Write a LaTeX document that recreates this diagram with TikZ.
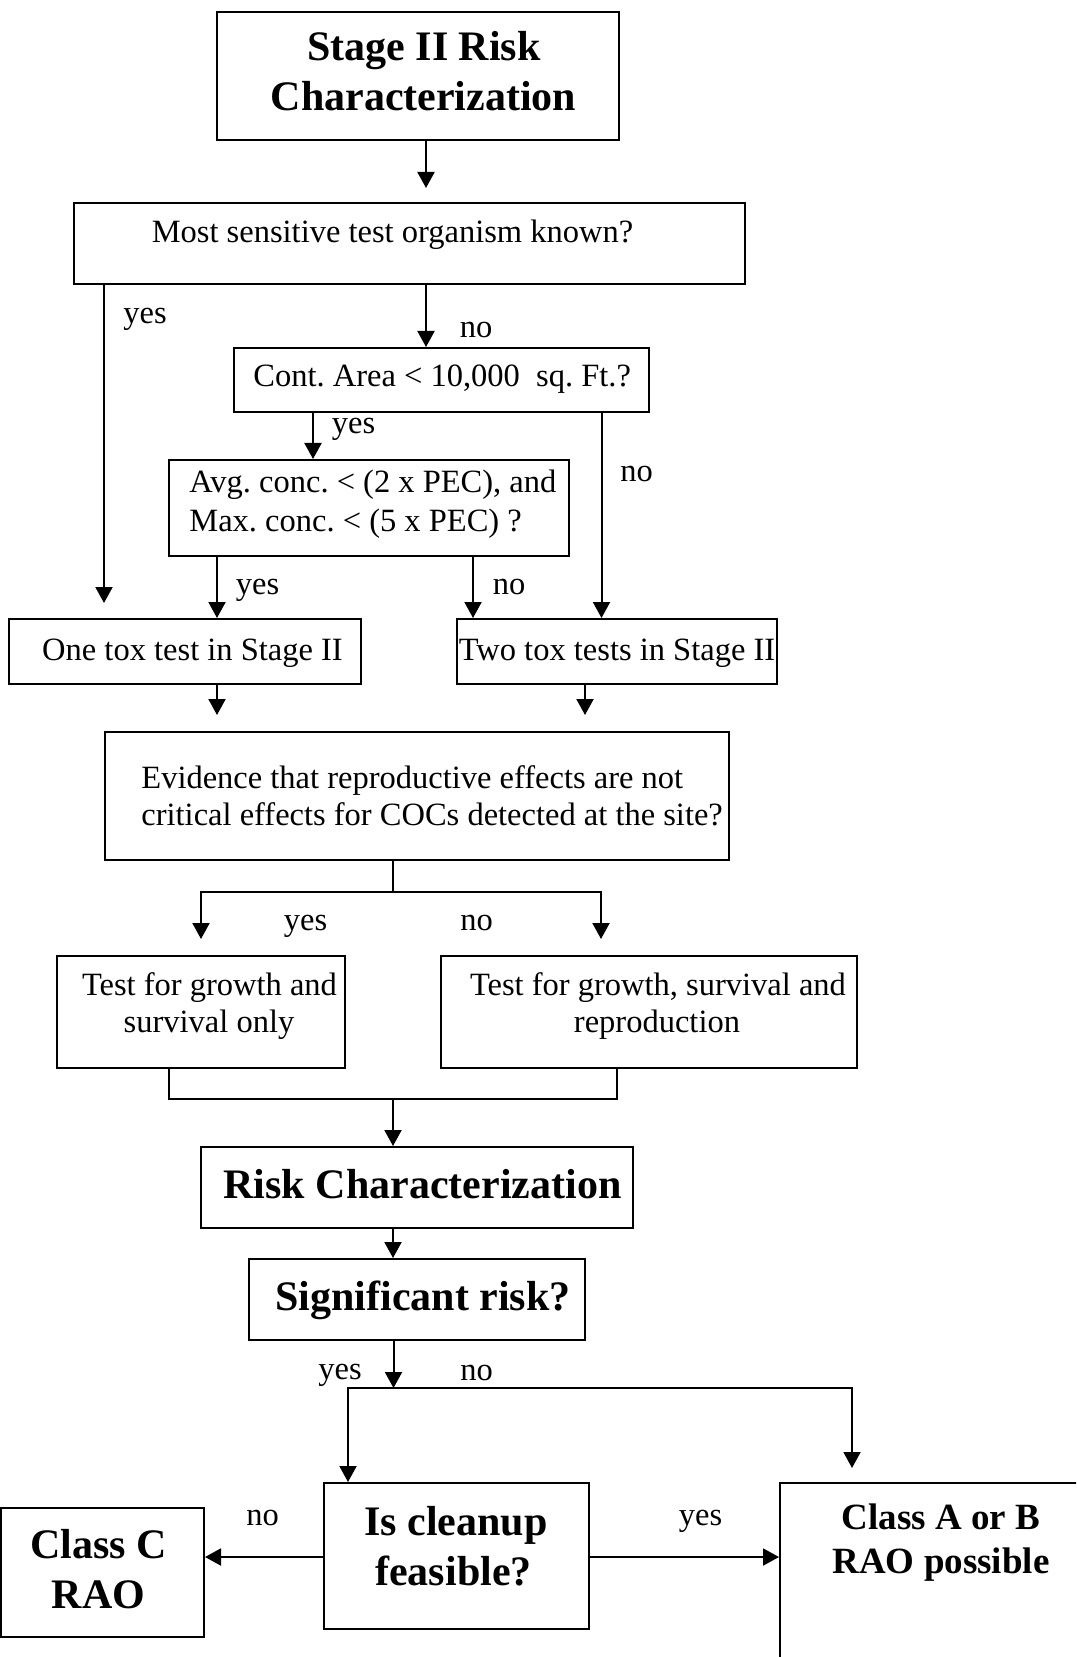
\documentclass[tikz,border=0pt]{standalone}
\usepackage{fontspec}
\setmainfont{Liberation Serif}
\usetikzlibrary{arrows.meta}
\frenchspacing
\begin{document}
\begin{tikzpicture}[x=0.5pt,y=-0.5pt,
  box/.style={draw, line width=1pt, inner sep=0pt},
  arr/.style={line width=1pt, -{Triangle[length=8pt,width=8.5pt]}},
  ln/.style={line width=1pt},
  rg/.style={inner sep=0pt, anchor=base, font=\fontsize{16.25}{18.75}\selectfont},
  bd/.style={inner sep=0pt, anchor=base, font=\fontsize{21}{25}\selectfont\bfseries},
  bs/.style={inner sep=0pt, anchor=base, font=\fontsize{18.5}{22}\selectfont\bfseries}]
\useasboundingbox (0,0) rectangle (1076,1657);
\clip (0,0) rectangle (1076,1657);

% boxes and texts
\node[box, minimum width=201pt, minimum height=64pt] (top) at (418,76) {};
\node[bd] (topl1) at (424,61) {Stage II Risk};
\node[bd] (topl2) at (423.5,111) {Characterization};

\node[box, minimum width=335.75pt, minimum height=40.5pt] (most) at (409.25,243.5) {};
\node[rg] (mostt) at (392.5,243) {Most sensitive test organism known?};

\node[box, minimum width=207.75pt, minimum height=32pt] (cont) at (441.25,380) {};
\node[rg, anchor=base west] (contt) at (253,387) {Cont. Area < 10,000\ \ sq. Ft.?};

\node[box, minimum width=200pt, minimum height=48pt] (avg) at (369,508) {};
\node[rg, anchor=base west] (avg1) at (189,493) {Avg. conc. < (2 x PEC), and};
\node[rg, anchor=base west] (avg2) at (189,531) {Max. conc. < (5 x PEC) ?};

\node[box, minimum width=176pt, minimum height=32.5pt] (one) at (185,651.5) {};
\node[rg] (onet) at (192.5,660) {One tox test in Stage II};
\node[box, minimum width=160pt, minimum height=32.5pt] (two) at (617,651.5) {};
\node[rg] (twot) at (617,660) {Two tox tests in Stage II};

\node[box, minimum width=312pt, minimum height=64pt] (evid) at (417,796) {};
\node[rg, anchor=base west] (ev1) at (141,788) {Evidence that reproductive effects are not};
\node[rg, anchor=base west] (ev2) at (141,825) {critical effects for COCs detected at the site?};

\node[box, minimum width=144pt, minimum height=56pt] (gl) at (201,1012) {};
\node[rg] (gl1) at (209.5,995) {Test for growth and};
\node[rg] (gl2) at (209,1032) {survival only};
\node[box, minimum width=208pt, minimum height=56pt] (gr) at (649,1012) {};
\node[rg] (gr1) at (658,995) {Test for growth, survival and};
\node[rg] (gr2) at (657,1032) {reproduction};

\node[box, minimum width=216pt, minimum height=40.5pt] (risk) at (416.5,1187.5) {};
\node[bd] (riskt) at (422.5,1198) {Risk Characterization};
\node[box, minimum width=168.25pt, minimum height=40.5pt] (sig) at (416.75,1299.5) {};
\node[bd] (sigt) at (423,1310) {Significant risk?};

\node[box, minimum width=132.25pt, minimum height=73pt] (clean) at (456.25,1556) {};
\node[bd] (cl1) at (456,1535) {Is cleanup};
\node[bd] (cl2) at (453.5,1585) {feasible?};
\node[box, minimum width=101.5pt, minimum height=64.5pt] (classc) at (102.5,1572.5) {};
\node[bd] (cc1) at (98.5,1558) {Class C};
\node[bd] (cc2) at (98.6,1608) {RAO};
\node[box, minimum width=160pt, minimum height=108.5pt] (classab) at (940,1591.5) {};
\node[bs] (ab1) at (941,1529.5) {Class A or B};
\node[bs] (ab2) at (941,1573) {RAO possible};

% labels
\node[rg] (ly1) at (145,324) {yes};
\node[rg] (ln1) at (476,338) {no};
\node[rg] (ly2) at (353.5,434) {yes};
\node[rg] (ln2) at (636.5,482) {no};
\node[rg] (ly3) at (257.5,594.5) {yes};
\node[rg] (ln3) at (509,594.5) {no};
\node[rg] (ly4) at (305.5,930) {yes};
\node[rg] (ln4) at (476.5,930) {no};
\node[rg] (ly5) at (340,1379) {yes};
\node[rg] (ln5) at (476.5,1380) {no};
\node[rg] (ln6) at (262.5,1525) {no};
\node[rg] (ly6) at (700.5,1525) {yes};

% connectors
\coordinate (e1) at (426,188);
\draw[arr] (top.south -| e1) -- (e1);
\coordinate (xa) at (426,0);
\draw[arr] (most.south -| xa) -- (cont.north -| xa);
\coordinate (e2) at (104,603);
\draw[arr] (most.south -| e2) -- (e2);
\coordinate (xb) at (313,0);
\draw[arr] (cont.south -| xb) -- (avg.north -| xb);
\coordinate (xc) at (601.5,0);
\draw[arr] (cont.south -| xc) -- (two.north -| xc);
\coordinate (xd) at (217,0);
\draw[arr] (avg.south -| xd) -- (one.north -| xd);
\coordinate (xe) at (473,0);
\draw[arr] (avg.south -| xe) -- (two.north -| xe);
\coordinate (e3) at (217,715);
\draw[arr] (one.south -| e3) -- (e3);
\coordinate (e4) at (585,715);
\draw[arr] (two.south -| e4) -- (e4);
\coordinate (b1) at (393,892);
\coordinate (e5) at (201,939);
\coordinate (e6) at (601,939);
\draw[ln] (evid.south -| b1) -- (b1);
\draw[arr] (b1) -| (e5);
\draw[arr] (b1) -| (e6);
\coordinate (m1) at (393,1099);
\coordinate (xf) at (169,0);
\coordinate (xg) at (617,0);
\draw[ln] (gl.south -| xf) |- (m1) -| (gr.south -| xg);
\draw[arr] (m1) -- (risk.north -| m1);
\draw[arr] (risk.south -| m1) -- (sig.north -| m1);
\coordinate (b2) at (393.5,1388);
\draw[arr] (sig.south -| b2) -- (b2);
\coordinate (xh) at (348,0);
\coordinate (e7) at (852,1468);
\draw[arr] (b2) -| (clean.north -| xh);
\draw[arr] (b2) -| (e7);
\coordinate (yl) at (0,1557);
\draw[arr] (clean.west |- yl) -- (classc.east |- yl);
\draw[arr] (clean.east |- yl) -- (classab.west |- yl);
\end{tikzpicture}
\end{document}
